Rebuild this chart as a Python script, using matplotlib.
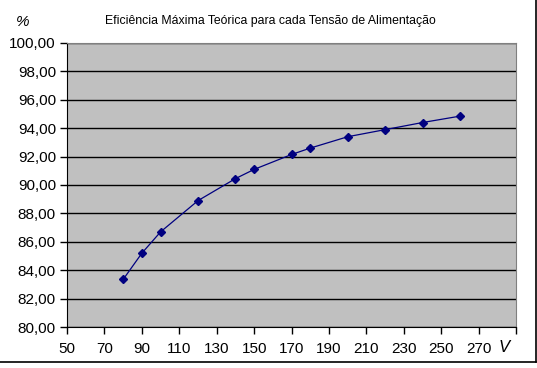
import matplotlib
matplotlib.use("Agg")
from matplotlib import pyplot as plt
from matplotlib.lines import Line2D
from matplotlib.ticker import FuncFormatter, MultipleLocator, FixedLocator

# tensão de alimentação (V) e eficiência máxima teórica (%)
tensao = [80, 90, 100, 120, 140, 150, 170, 180, 200, 220, 240, 260]
eficiencia = [83.35, 85.2, 86.7, 88.9, 90.45, 91.1, 92.15, 92.6, 93.4, 93.9, 94.4, 94.85]
ticks_x = list(range(50, 291, 20))
titulo = 'Eficiência Máxima Teórica para cada Tensão de Alimentação'

plt.rcParams['font.family'] = ['Liberation Sans', 'DejaVu Sans']

fig = plt.figure(figsize=(5.37, 3.68), dpi=100)
ax = fig.add_axes([0.1248, 0.1114, 0.8365, 0.7718])
ax.set_facecolor('#c0c0c0')

ax.plot(tensao, eficiencia, color='#000080', lw=0.9, marker='D', ms=4.5,
        mfc='#000080', mec='#000080', zorder=3)

ax.set_xlim(50, 290)
ax.set_ylim(80, 100)
ax.xaxis.set_major_locator(FixedLocator(ticks_x))
ax.yaxis.set_major_locator(MultipleLocator(2))
ax.xaxis.set_major_formatter(FuncFormatter(lambda v, p: '%d' % v if v < 280 else ''))
ax.yaxis.set_major_formatter(FuncFormatter(lambda v, p: ('%.2f' % v).replace('.', ',')))
ax.grid(axis='y', color='black', lw=1)
ax.set_axisbelow(True)

for s in ['top', 'right']:
    ax.spines[s].set_color('#808080')
for s in ['left', 'bottom']:
    ax.spines[s].set_color('black')
ax.tick_params(direction='out', length=5, width=1, labelsize=11, colors='black', pad=3)
ax.tick_params(axis='x', pad=6)

fig.text(0.503, 0.942, titulo, ha='center', va='center', fontsize=8.8)
fig.text(0.042, 0.94, '%', ha='center', va='center', fontsize=11, style='italic')
fig.text(0.938, 0.055, 'V', ha='center', va='center', fontsize=12, style='italic')

# moldura do gráfico
fig.add_artist(Line2D([0.998, 0.998], [0.015, 1.0], transform=fig.transFigure, color='black', lw=1.2))
fig.add_artist(Line2D([0.0, 0.998], [0.015, 0.015], transform=fig.transFigure, color='black', lw=1.2))

fig.savefig('out.png', dpi=100)
